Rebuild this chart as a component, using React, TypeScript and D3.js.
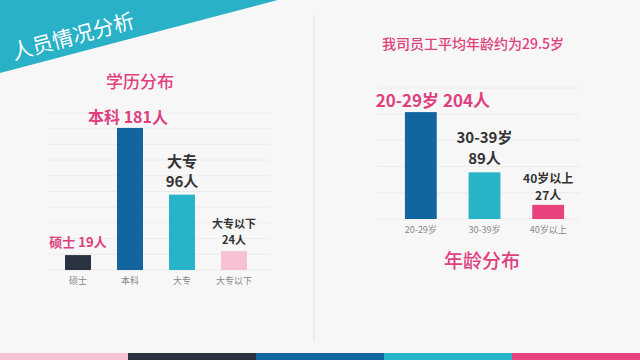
import React, { useRef, useEffect } from 'react';
import * as d3 from 'd3';

const eduCategories = ['硕士', '本科', '大专', '大专以下'];
const eduValues = [19, 181, 96, 24];
const eduColors = ['#2b3340', '#13659f', '#27b4c9', '#f6c1d5'];

const ageCategories = ['20-29岁', '30-39岁', '40岁以上'];
const ageValues = [204, 89, 27];
const ageColors = ['#13659f', '#27b4c9', '#e8437f'];

const stripColors = ['#f6c1d5', '#2b3340', '#13659f', '#27b4c9', '#e8437f'];

const PINK = '#e0407e';
const DARK = '#333333';
const FONT = '"Noto Sans CJK SC", "Noto Sans", sans-serif';

const App = () => {
  const svgRef = useRef(null);
  useEffect(() => {
    const svg = d3.select(svgRef.current);
    const width = 640;
    const height = 360;
    svg.selectAll('*').remove();

    svg.append('rect').attr('width', width).attr('height', height).attr('fill', '#f7f7f7');

    // banner
    svg.append('polygon')
      .attr('points', '0,0 278,0 0,73')
      .attr('fill', '#28b1c7');
    svg.append('text')
      .attr('transform', 'translate(14,60) rotate(-15)')
      .style('font-family', FONT)
      .style('font-size', '21px')
      .style('fill', '#fff')
      .text('人员情况分析');

    // divider
    svg.append('line')
      .attr('x1', 314).attr('x2', 314).attr('y1', 15).attr('y2', 342)
      .attr('stroke', '#e3e3e3').attr('stroke-width', 1);

    // bottom strip
    const sx = d3.scaleBand().domain(d3.range(stripColors.length)).range([0, width]);
    svg.selectAll('.strip')
      .data(stripColors)
      .enter().append('rect')
      .attr('x', (d, i) => sx(i))
      .attr('y', 353)
      .attr('width', sx.bandwidth())
      .attr('height', 7)
      .attr('fill', d => d);

    const txt = (x, y, s, size, color, weight = '700') =>
      svg.append('text')
        .attr('x', x).attr('y', y)
        .style('text-anchor', 'middle')
        .style('font-family', FONT)
        .style('font-size', size)
        .style('font-weight', weight)
        .style('fill', color)
        .text(s);

    // ---- education chart ----
    const x1 = d3.scaleBand().domain(eduCategories).range([52, 260]).paddingInner(0.5).paddingOuter(0.25);
    const y1 = d3.scaleLinear().domain([0, 200]).range([270, 113]);
    const g1 = svg.append('g');
    g1.selectAll('line')
      .data(y1.ticks(10))
      .enter().append('line')
      .attr('x1', 48).attr('x2', 270)
      .attr('y1', d => y1(d)).attr('y2', d => y1(d))
      .attr('stroke', '#ececec').attr('stroke-width', 1);
    g1.selectAll('rect')
      .data(eduValues)
      .enter().append('rect')
      .attr('x', (d, i) => x1(eduCategories[i]))
      .attr('y', d => y1(d))
      .attr('width', x1.bandwidth())
      .attr('height', d => y1(0) - y1(d))
      .attr('fill', (d, i) => eduColors[i]);
    g1.selectAll('text')
      .data(eduCategories)
      .enter().append('text')
      .attr('x', d => x1(d) + x1.bandwidth() / 2)
      .attr('y', 284)
      .style('text-anchor', 'middle')
      .style('font-family', FONT)
      .style('font-size', '9px')
      .style('fill', '#888')
      .text(d => d);

    const c1 = i => x1(eduCategories[i]) + x1.bandwidth() / 2;
    txt(140, 88, '学历分布', '17px', PINK, '500');
    txt(c1(0), y1(eduValues[0]) - 8, `${eduCategories[0]} ${eduValues[0]}人`, '13px', PINK);
    txt(c1(1) - 2, y1(eduValues[1]) - 5, `${eduCategories[1]} ${eduValues[1]}人`, '16px', PINK);
    txt(c1(2), y1(eduValues[2]) - 28, eduCategories[2], '15px', DARK);
    txt(c1(2), y1(eduValues[2]) - 8, `${eduValues[2]}人`, '15px', DARK);
    txt(c1(3), y1(eduValues[3]) - 23, eduCategories[3], '11px', DARK);
    txt(c1(3), y1(eduValues[3]) - 7, `${eduValues[3]}人`, '11px', DARK);

    // ---- age chart ----
    const x2 = d3.scaleBand().domain(ageCategories).range([389, 580]).paddingInner(0.5).paddingOuter(0.25);
    const y2 = d3.scaleLinear().domain([0, 250]).range([219, 88]);
    const g2 = svg.append('g');
    g2.selectAll('line')
      .data(y2.ticks(5))
      .enter().append('line')
      .attr('x1', 377).attr('x2', 580)
      .attr('y1', d => y2(d)).attr('y2', d => y2(d))
      .attr('stroke', '#ececec').attr('stroke-width', 1);
    g2.selectAll('rect')
      .data(ageValues)
      .enter().append('rect')
      .attr('x', (d, i) => x2(ageCategories[i]))
      .attr('y', d => y2(d))
      .attr('width', x2.bandwidth())
      .attr('height', d => y2(0) - y2(d))
      .attr('fill', (d, i) => ageColors[i]);
    g2.selectAll('text')
      .data(ageCategories)
      .enter().append('text')
      .attr('x', d => x2(d) + x2.bandwidth() / 2)
      .attr('y', 233)
      .style('text-anchor', 'middle')
      .style('font-family', FONT)
      .style('font-size', '9px')
      .style('fill', '#888')
      .text(d => d);

    const c2 = i => x2(ageCategories[i]) + x2.bandwidth() / 2;
    txt(473, 49, '我司员工平均年龄约为29.5岁', '14px', PINK, '500');
    txt(c2(0) + 12, y2(ageValues[0]) - 5, `${ageCategories[0]} ${ageValues[0]}人`, '17px', PINK);
    txt(c2(1), y2(ageValues[1]) - 29, ageCategories[1], '15px', DARK);
    txt(c2(1), y2(ageValues[1]) - 8, `${ageValues[1]}人`, '15px', DARK);
    txt(c2(2), y2(ageValues[2]) - 22, ageCategories[2], '12px', DARK);
    txt(c2(2), y2(ageValues[2]) - 5, `${ageValues[2]}人`, '12px', DARK);
    txt(482, 268, '年龄分布', '19px', PINK, '500');
  }, []);
  return (
    <svg ref={svgRef} width={640} height={360} style={{ position: 'absolute', left: 0, top: 0 }}></svg>
  );
};

export default App;
